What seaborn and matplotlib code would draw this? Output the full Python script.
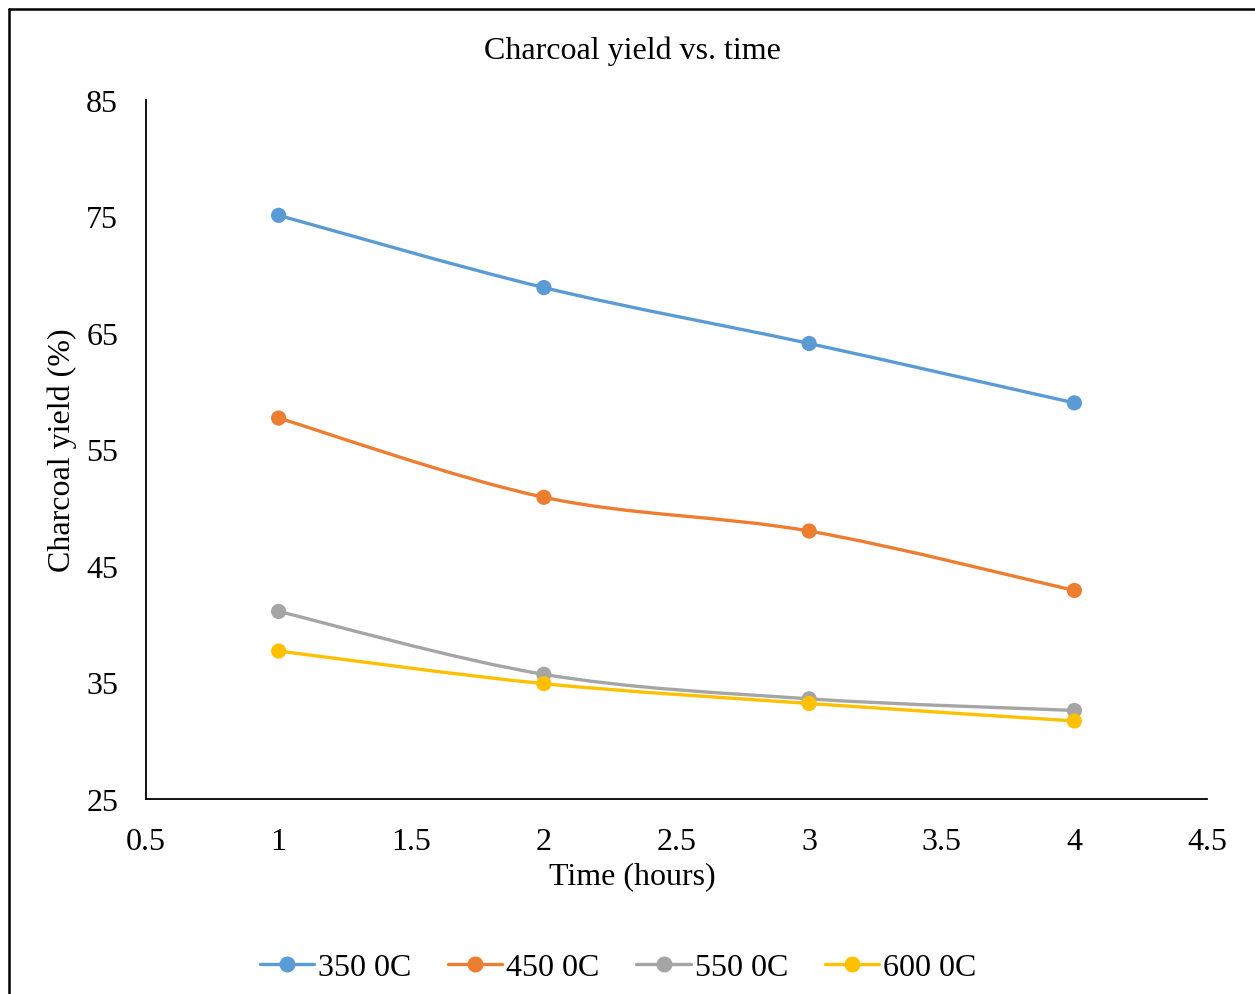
import matplotlib
matplotlib.use("Agg")
import matplotlib.pyplot as plt
import seaborn as sns
import numpy as np
import pandas as pd
from matplotlib.path import Path
from matplotlib.patches import PathPatch
from matplotlib.lines import Line2D

time_hours = [1, 2, 3, 4]
yield_350 = [75.1, 68.9, 64.1, 59.0]
yield_450 = [57.7, 50.9, 48.0, 42.9]
yield_550 = [41.1, 35.7, 33.6, 32.6]
yield_600 = [37.7, 34.9, 33.2, 31.7]
series_names = ["350 0C", "450 0C", "550 0C", "600 0C"]
colors = ["#5B9BD5", "#ED7D31", "#A5A5A5", "#FFC000"]
x_ticks = [0.5, 1, 1.5, 2, 2.5, 3, 3.5, 4, 4.5]
x_tick_labels = ["0.5", "1", "1.5", "2", "2.5", "3", "3.5", "4", "4.5"]
y_ticks = [25, 35, 45, 55, 65, 75, 85]

sns.set_theme(style="white")
plt.rcParams['font.family'] = ['Liberation Serif', 'DejaVu Serif']
plt.rcParams['text.color'] = 'black'

FS = 23

df = pd.DataFrame({
    "time": time_hours * 4,
    "yield": yield_350 + yield_450 + yield_550 + yield_600,
    "series": sum([[n] * 4 for n in series_names], []),
})

fig = plt.figure(figsize=(12.55, 9.95), dpi=100)
ax = fig.add_axes([146/1255, 1-800/995, (1207-146)/1255, (800-101)/995])

def smooth_path(xs, ys):
    # Excel-style smoothed line: cubic Bezier segments (Catmull-Rom control points)
    pts = np.column_stack([xs, ys]).astype(float)
    n = len(pts)
    verts = [pts[0]]
    codes = [Path.MOVETO]
    for i in range(n - 1):
        p0 = pts[i - 1] if i > 0 else pts[i]
        p1 = pts[i]
        p2 = pts[i + 1]
        p3 = pts[i + 2] if i + 2 < n else pts[i + 1]
        c1 = p1 + (p2 - p0) / 6.0
        c2 = p2 - (p3 - p1) / 6.0
        verts += [c1, c2, p2]
        codes += [Path.CURVE4] * 3
    return Path(verts, codes)

for name, c in zip(series_names, colors):
    sub = df[df.series == name]
    ax.add_patch(PathPatch(smooth_path(sub.time.values, sub["yield"].values),
                           facecolor="none", edgecolor=c, lw=2.4, zorder=2,
                           capstyle="round"))

sns.scatterplot(data=df, x="time", y="yield", hue="series", palette=colors,
                s=120, edgecolor="none", ax=ax, legend=False, zorder=3)

ax.set_xlim(0.5, 4.5)
ax.set_ylim(25, 85)
ax.set_xticks(x_ticks)
ax.set_xticklabels(x_tick_labels)
ax.set_yticks(y_ticks)
ax.tick_params(axis="both", length=0, labelsize=FS, colors="black")
ax.tick_params(axis="x", pad=20)
ax.tick_params(axis="y", pad=20)
for s in ["top", "right"]:
    ax.spines[s].set_visible(False)
for s in ["left", "bottom"]:
    ax.spines[s].set_color("black")
    ax.spines[s].set_linewidth(1.3)
ax.grid(False)

ax.set_xlabel("Time (hours)", fontsize=FS, color="black", va="center")
ax.set_ylabel("Charcoal yield (%)", fontsize=FS, color="black", va="center")
ax.xaxis.set_label_coords((632-146)/1061, -(877-800)/699)
ax.yaxis.set_label_coords((62-146)/1061, 0.5)

fig.text(632/1255, 1-51/995, "Charcoal yield vs. time", ha="center", va="center",
         fontsize=FS, color="black")

handles = [Line2D([0], [0], color=c, lw=2.4, marker="o", markersize=10.5,
                  markeredgecolor=c) for c in colors]
leg = fig.legend(handles, series_names, loc="center", bbox_to_anchor=(618/1255, 1-968/995),
                 ncol=4, frameon=False, fontsize=FS, handlelength=1.7, handletextpad=0.12,
                 columnspacing=1.15)
for t in leg.get_texts():
    t.set_color("black")

# outer chart border (top and left visible)
fig.add_artist(Line2D([9/1255, 1.0], [1-10/995, 1-10/995], transform=fig.transFigure,
                      color="black", lw=1.8))
fig.add_artist(Line2D([9/1255, 9/1255], [0, 1-10/995], transform=fig.transFigure,
                      color="black", lw=1.8))

fig.savefig("out.png", dpi=100, facecolor="white")
